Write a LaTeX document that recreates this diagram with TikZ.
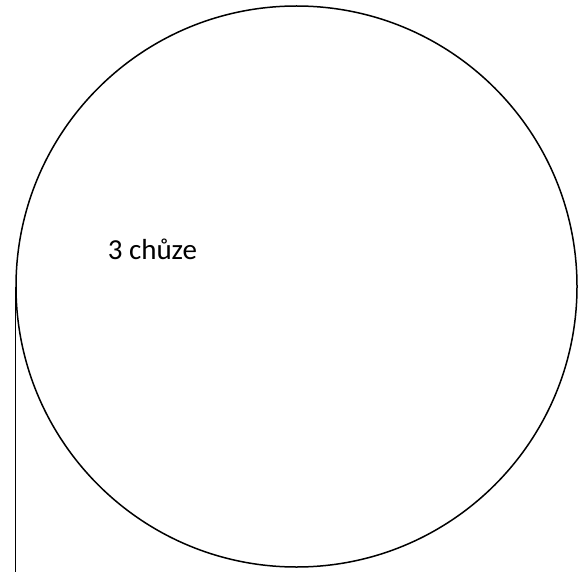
\documentclass[tikz,border=0pt]{standalone}
\usepackage{fontspec}
\setmainfont{Carlito}
\begin{document}
\begin{tikzpicture}[x=1pt,y=-1pt,line width=1.5pt,
  lbl/.style={inner sep=0pt,anchor=base west,font=\fontsize{29}{34}\selectfont}]
\useasboundingbox (0,0) rectangle (578,572);
\node[draw,circle,minimum size=561pt,inner sep=0pt,line width=1.5pt] (c) at (296.5,286.5) {};
\coordinate (lb) at (15.5,572);
\draw (c.west) -- (c.west |- lb);
\node[lbl] (t) at (107,259) {3 chůze};
\end{tikzpicture}
\end{document}
